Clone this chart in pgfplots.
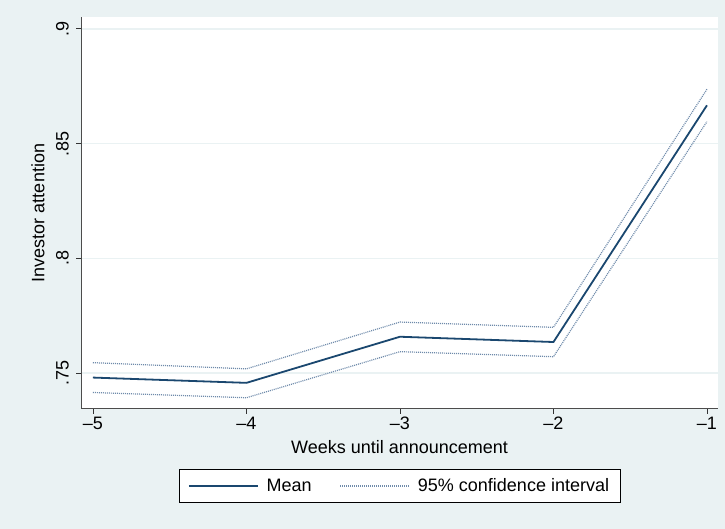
\documentclass[border=0pt]{standalone}
\usepackage{fontspec}
\setmainfont{Liberation Sans}
\usepackage{pgfplots}
\pgfplotsset{compat=1.18}
\usepackage{pgfplotstable}

\definecolor{bgc}{RGB}{234,242,243}
\definecolor{navy}{RGB}{26,71,111}
\definecolor{cinavy}{RGB}{110,138,170}

% Weekly means of investor attention with 95% confidence bounds
\pgfplotstableread{
week  mean    lower   upper
-5    0.7480  0.7415  0.7545
-4    0.7457  0.7392  0.7518
-3    0.7658  0.7593  0.7722
-2    0.7635  0.7571  0.7699
-1    0.8667  0.8596  0.8737
}\attention

\begin{document}
\begin{tikzpicture}[font=\fontsize{18}{21}\selectfont]
\fill[bgc] (0pt,0pt) rectangle (725pt,529pt);
\begin{axis}[
  at={(81pt,120pt)}, anchor=south west,
  scale only axis, width=637pt, height=392pt,
  xmin=-5.078, xmax=-0.928,
  ymin=0.7343, ymax=0.9052,
  axis background/.style={fill=white},
  axis lines=left,
  axis line style={-, black!70, line width=1pt},
  tick align=outside,
  major tick length=5pt,
  tick style={black!80, line width=0.9pt},
  xtick={-5,-4,-3,-2,-1},
  xticklabels={\textendash 5,\textendash 4,\textendash 3,\textendash 2,\textendash 1},
  ytick={0.75,0.8,0.85,0.9},
  yticklabels={.75,.8,.85,.9},
  yticklabel style={rotate=90, anchor=south, inner sep=7pt},
  xticklabel style={anchor=north, inner sep=3pt},
  ymajorgrids,
  major grid style={color=bgc, line width=1.2pt},
  xlabel={Weeks until announcement},
  ylabel={Investor attention},
  xlabel style={at={(axis description cs:0.5,-0.097)}, anchor=center},
  ylabel style={at={(axis description cs:-0.0675,0.5)}, anchor=center},
  legend columns=2,
  legend style={
    at={(axis description cs:0.5,-0.1964)}, anchor=center,
    draw=black, line width=0.8pt, fill=white,
    inner xsep=9pt, inner ysep=7pt,
    nodes={inner sep=2pt},
    /tikz/every odd column/.append style={column sep=6pt},
    /tikz/every even column/.append style={column sep=26pt},
  },
  legend image code/.code={\draw[#1] (0pt,0pt) -- (69pt,0pt);},
]
\addplot[navy, line width=1.8pt] table[x=week, y=mean] {\attention};
\addlegendentry{Mean}
\addplot[cinavy, line width=1.2pt, dash pattern=on 1pt off 1pt] table[x=week, y=upper] {\attention};
\addlegendentry{95\% confidence interval}
\addplot[cinavy, line width=1.2pt, dash pattern=on 1pt off 1pt, forget plot] table[x=week, y=lower] {\attention};
\end{axis}
\end{tikzpicture}
\end{document}
